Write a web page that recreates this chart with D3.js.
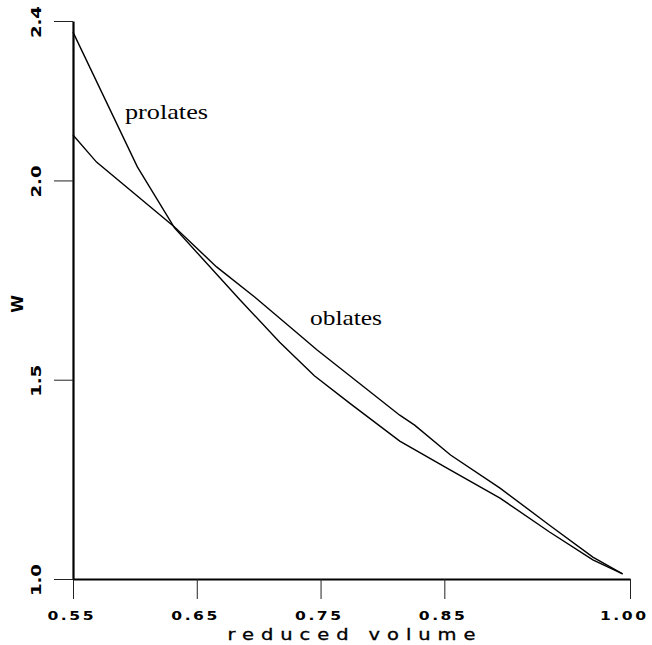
<!DOCTYPE html>
<html>
<head>
<meta charset="utf-8">
<script src="https://cdn.jsdelivr.net/npm/d3@7"></script>
<style>
  body { margin: 0; background: #fff; }
  svg { display: block; }
</style>
</head>
<body>
<div id="chart"></div>
<script>
// values
const prolateV = [0.55, 0.602, 0.632, 0.685, 0.717, 0.745, 0.774, 0.814, 0.855, 0.895, 0.935, 0.970, 0.994]
const prolateW = [2.372, 2.034, 1.881, 1.700, 1.594, 1.510, 1.440, 1.346, 1.273, 1.203, 1.118, 1.048, 1.013]

const oblateV = [0.55, 0.569, 0.632, 0.666, 0.697, 0.733, 0.747, 0.814, 0.826, 0.855, 0.895, 0.935, 0.970, 0.994]
const oblateW = [2.114, 2.046, 1.883, 1.783, 1.707, 1.612, 1.575, 1.411, 1.386, 1.311, 1.228, 1.135, 1.055, 1.013]

const xTicks = [0.55, 0.65, 0.75, 0.85, 1.00]
const xTickLabels = ['0.55', '0.65', '0.75', '0.85', '1.00']
const yTicks = [1.0, 1.5, 2.0, 2.4]
const yTickLabels = ['1.0', '1.5', '2.0', '2.4']

const svgWidth = 652
const svgHeight = 645

const svg = d3.select('#chart')
    .append('svg')
    .attr('width', svgWidth)
    .attr('height', svgHeight)

////////////// scales //////////////
const xScale = d3.scaleLinear()
    .domain([0.55, 1.00])
    .range([73, 630])

const yScale = d3.scaleLinear()
    .domain([1.0, 2.4])
    .range([579, 21])

////////////// axes ////////////////
const xAxis = d3.axisBottom(xScale)
    .tickValues(xTicks)
    .tickSize(20)
    .tickSizeOuter(0)
    .tickFormat('')

const yAxis = d3.axisLeft(yScale)
    .tickValues(yTicks)
    .tickSize(19)
    .tickSizeOuter(0)
    .tickFormat('')

const gx = svg.append('g')
    .attr('transform', `translate(0,${yScale(1.0)})`)
    .call(xAxis)

const gy = svg.append('g')
    .attr('transform', `translate(${xScale(0.55)},0)`)
    .call(yAxis)

for (let g of [gx, gy]) {
    g.select('.domain').attr('stroke', '#000').attr('stroke-width', 2.2)
    g.selectAll('.tick line').attr('stroke', '#222').attr('stroke-width', 1)
}

// wide "plotter" style text: stretched glyphs plus spread letters
const sx = 1.3

// x tick labels
svg.append('g')
    .selectAll('text')
    .data(xTicks)
    .join('text')
    .attr('transform', (d, i) => `translate(${xScale(d) - (i == xTicks.length - 1 ? 7 : 2.5)},620) scale(${sx},1)`)
    .attr('text-anchor', 'middle')
    .attr('font-family', 'DejaVu Sans')
    .attr('font-weight', 'bold')
    .attr('font-size', 12)
    .attr('textLength', 46 / sx)
    .attr('lengthAdjust', 'spacing')
    .text((d, i) => xTickLabels[i])

// y tick labels (rotated)
svg.append('g')
    .selectAll('text')
    .data(yTicks)
    .join('text')
    .attr('transform', d => `translate(41,${yScale(d) + 1}) rotate(-90) scale(${sx},1)`)
    .attr('text-anchor', 'middle')
    .attr('font-family', 'DejaVu Sans')
    .attr('font-weight', 'bold')
    .attr('font-size', 14)
    .attr('textLength', 32 / sx)
    .attr('lengthAdjust', 'spacing')
    .text((d, i) => yTickLabels[i])

// axis titles
svg.append('text')
    .attr('transform', `translate(${(xScale(0.55) + xScale(1.0)) / 2},640) scale(${sx},1)`)
    .attr('text-anchor', 'middle')
    .attr('font-family', 'DejaVu Sans')
    .attr('font-size', 15)
    .attr('stroke', '#000')
    .attr('stroke-width', 0.3)
    .attr('textLength', 248 / sx)
    .attr('lengthAdjust', 'spacing')
    .text('reduced volume')

svg.append('text')
    .attr('transform', `translate(23,304) rotate(-90)`)
    .attr('text-anchor', 'middle')
    .attr('font-family', 'DejaVu Sans')
    .attr('font-weight', 'bold')
    .attr('font-size', 16)
    .text('W')

////////////// curves //////////////
const line = d3.line()
    .x(d => xScale(d[0]))
    .y(d => yScale(d[1]))

const series = [
    d3.zip(prolateV, prolateW),
    d3.zip(oblateV, oblateW)
]

svg.append('g')
    .selectAll('path')
    .data(series)
    .join('path')
    .attr('d', line)
    .attr('fill', 'none')
    .attr('stroke', '#000')
    .attr('stroke-width', 1.4)

// curve labels
svg.append('text')
    .attr('x', 125)
    .attr('y', 119)
    .attr('font-family', 'Liberation Serif')
    .attr('font-size', 22)
    .attr('textLength', 83)
    .attr('lengthAdjust', 'spacingAndGlyphs')
    .text('prolates')

svg.append('text')
    .attr('x', 310)
    .attr('y', 325)
    .attr('font-family', 'Liberation Serif')
    .attr('font-size', 21)
    .attr('textLength', 72)
    .attr('lengthAdjust', 'spacingAndGlyphs')
    .text('oblates')
</script>
</body>
</html>
